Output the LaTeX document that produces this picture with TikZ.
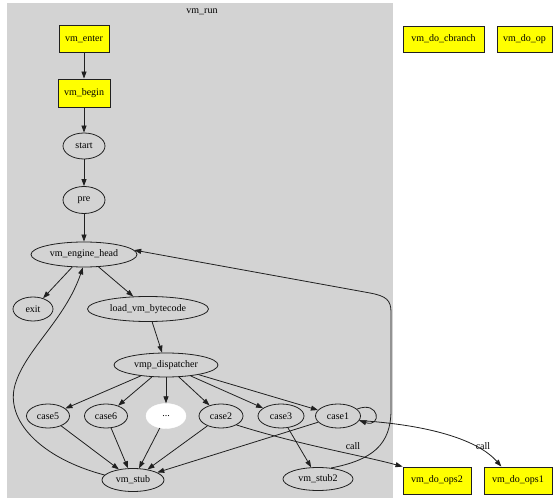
\documentclass[tikz,border=0pt]{standalone}
\usepackage{fontspec}
\setmainfont{Liberation Serif}
\usetikzlibrary{arrows.meta,shapes.geometric}
\definecolor{clustergray}{HTML}{D3D3D3}
\definecolor{boxyellow}{HTML}{FFFF00}
\definecolor{linegray}{HTML}{202020}
\tikzset{
  every node/.style={font=\fontsize{10}{12}\selectfont, text=black},
  fbox/.style={draw=linegray, line width=0.9pt, fill=boxyellow, rectangle, inner sep=0pt, minimum height=27pt},
  ell/.style={draw=linegray, line width=0.8pt, ellipse, inner sep=0pt, minimum height=25pt},
  dots/.style={draw=white, fill=white, ellipse, inner sep=0pt, minimum height=25pt, minimum width=40pt},
  edge/.style={draw=linegray, line width=0.8pt, -{Triangle[length=7pt,width=5pt]}},
  lbl/.style={inner sep=0pt}
}
\begin{document}
\begin{tikzpicture}[x=1pt,y=-1pt]
\fill[white] (0,0) rectangle (554,502);
\useasboundingbox (0,0) rectangle (554,502);
% cluster
\fill[clustergray] (7,3) rectangle (393,498);
\node[lbl] (title) at (202,12) {vm\_run};
% nodes
\node[fbox, minimum width=50pt] (enter) at (84,39) {vm\_enter};
\node[fbox, minimum width=52pt, minimum height=28pt] (begin) at (84,93) {vm\_begin};
\node[ell, minimum width=42pt, minimum height=26pt] (start) at (84,146) {start};
\node[ell, minimum width=42pt, minimum height=27pt] (pre) at (84,200) {pre};
\node[ell, minimum width=106pt] (head) at (84,254.5) {vm\_engine\_head};
\node[ell, minimum width=40pt, minimum height=24pt] (exit) at (33,309) {exit};
\node[ell, minimum width=121pt] (load) at (148,309) {load\_vm\_bytecode};
\node[ell, minimum width=104pt, minimum height=24pt] (disp) at (166,365) {vmp\_dispatcher};
\node[ell, minimum width=43pt, minimum height=24pt] (c5) at (48,416) {case5};
\node[ell, minimum width=43pt, minimum height=24pt] (c6) at (106,416) {case6};
\node[dots] (cdots) at (166,416) {...};
\node[ell, minimum width=44pt, minimum height=24pt] (c2) at (221,416) {case2};
\node[ell, minimum width=46pt, minimum height=24pt] (c3) at (281,416) {case3};
\node[ell, minimum width=45pt, minimum height=24pt] (c1) at (338,416) {case1};
\node[ell, minimum width=62pt, minimum height=23pt] (stub) at (133,480) {vm\_stub};
\node[ell, minimum width=70pt, minimum height=23pt] (stub2) at (318,479) {vm\_stub2};
\node[fbox, minimum width=81pt, minimum height=26pt] (cbranch) at (443.5,39) {vm\_do\_cbranch};
\node[fbox, minimum width=55pt, minimum height=26pt] (doop) at (524.5,39) {vm\_do\_op};
\node[fbox, minimum width=68pt] (ops2) at (437,480.5) {vm\_do\_ops2};
\node[fbox, minimum width=68pt] (ops1) at (518,480.5) {vm\_do\_ops1};
\node[lbl] (call2) at (353,446) {call};
\node[lbl] (call1) at (483,446) {call};
% edges
\draw[edge] (enter) -- (begin);
\draw[edge] (begin) -- (start);
\draw[edge] (start) -- (pre);
\draw[edge] (pre) -- (head);
\draw[edge] (head) -- (exit);
\draw[edge] (head) -- (load);
\draw[edge] (load) -- (disp);
\draw[edge] (disp) -- (c5);
\draw[edge] (disp) -- (c6);
\draw[edge] (disp) -- (cdots);
\draw[edge] (disp) -- (c2);
\draw[edge] (disp) -- (c3);
\draw[edge] (disp) -- (c1);
\draw[edge] (c5) -- (stub);
\draw[edge] (c6) -- (stub);
\draw[edge] (cdots) -- (stub);
\draw[edge] (c2) -- (stub);
\draw[edge] (c1) -- (stub);
\draw[edge] (c3) -- (stub2);
\draw[edge] (stub.170) .. controls (40,458) and (5,420) .. (15,385)
  .. controls (25,350) and (65,320) .. (head.265);
\draw[edge] (stub2.40) .. controls (372,460) and (391,445) .. (391,410)
  -- (391,312) .. controls (391,300) and (386,296) .. (370,293) -- (head.5);
\draw[edge] (c1.20) .. controls (380,400) and (382,428) .. (c1.-12);
\draw[edge] (c2.-30) .. controls (300,445) and (360,455) .. (ops2.north west);
\draw[edge] (c1.-12) .. controls (430,425) and (478,440) .. (ops1.140);
\end{tikzpicture}
\end{document}
